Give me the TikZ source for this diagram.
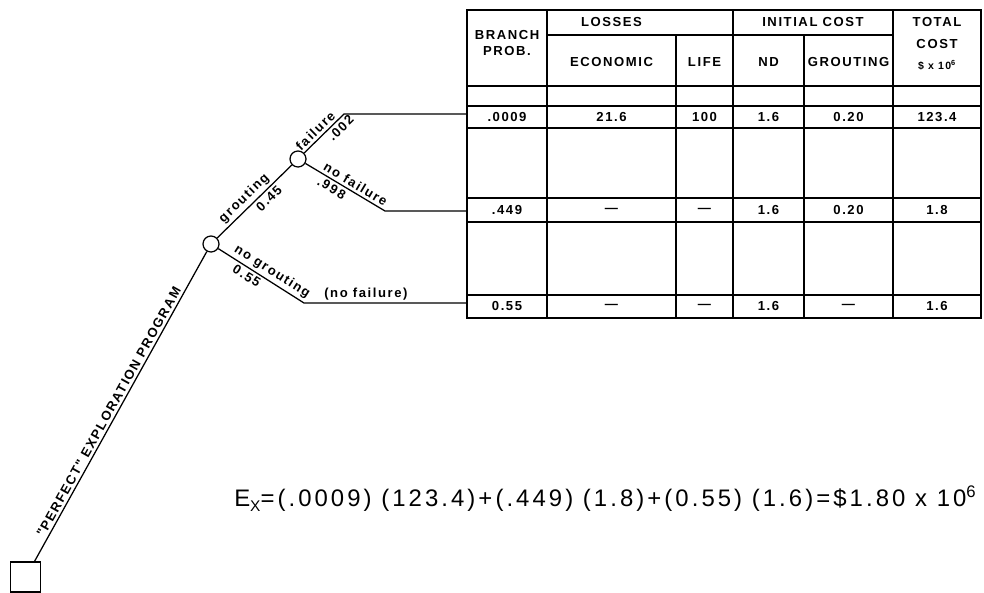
\documentclass[tikz,border=0pt]{standalone}
\usepackage{fontspec}
\setmainfont{Liberation Sans}
\newfontfamily\tabfont[LetterSpace=12]{Liberation Sans Bold}
\newfontfamily\eqnfont[LetterSpace=12.8]{Liberation Sans}
\usetikzlibrary{positioning, calc}

\begin{document}
\begin{tikzpicture}[x=0.025cm, y=-0.025cm,
    grid/.style={line width=1.3pt, line cap=rect},
    branch/.style={line width=0.9pt},
    chance/.style={draw, circle, line width=0.9pt, minimum size=0.4cm, inner sep=0pt},
    decision/.style={draw, rectangle, line width=0.9pt, minimum size=0.75cm, inner sep=0pt},
    lbl/.style={font=\tabfont\fontsize{9.3}{10}\selectfont, inner sep=1.2pt},
    tag/.style={lbl, sloped, inner sep=1.8pt},
    head/.style={font=\tabfont\fontsize{9.3}{11}\selectfont, align=center, inner sep=0pt}]

  \useasboundingbox (0,0) rectangle (984,592);

  % Table grid
  \foreach \y in {10,86,106,128,198,222,295,318}{
    \draw[grid] (467,\y) -- (981,\y);
  }
  \draw[grid] (547,35) -- (893,35);
  \foreach \x in {467,547,733,893,981}{
    \draw[grid] (\x,10) -- (\x,318);
  }
  \foreach \x in {676,804}{
    \draw[grid] (\x,35) -- (\x,318);
  }

  % Column headers
  \node[head] (hbranch) at (507,43) {BRANCH\\PROB.};
  \node[head] (hlosses) at (611.5,22) {LOSSES};
  \node[head] (hinit) at (813,22) {INITIAL COST};
  \node[head, font=\tabfont\fontsize{9.3}{15.5}\selectfont] (htotal) at (937,44)
        {TOTAL\\COST\\{\fontsize{7.5}{8}\selectfont \$ x 10\textsuperscript{6}}};
  \foreach \t/\x/\n in {ECONOMIC/611.5/hecon, LIFE/704.5/hlife, ND/768.5/hnd, GROUTING/848.5/hgrout}{
    \node[head] (\n) at (\x,62) {\t};
  }

  % Row: failure
  \foreach \v/\x in {.0009/507, 21.6/611.5, 100/704.5, 1.6/768.5, 0.20/848.5, 123.4/937}{
    \node[lbl] at (\x,117) {\v};
  }
  % Row: no failure
  \foreach \v/\x in {.449/507, —/611.5, —/704.5, 1.6/768.5, 0.20/848.5, 1.8/937}{
    \node[lbl] at (\x,210) {\v};
  }
  % Row: no grouting
  \foreach \v/\x in {0.55/507, —/611.5, —/704.5, 1.6/768.5, —/848.5, 1.6/937}{
    \node[lbl] at (\x,306) {\v};
  }

  % Decision tree
  \node[decision] (start) at (25.5,577) {};
  \node[chance] (c1) at (211,244) {};
  \node[chance] (c2) at (298,159) {};
  \coordinate (bfail) at (344,114);
  \coordinate (bnofail) at (385,211);
  \coordinate (bnogrout) at (304,303);
  \coordinate (rfail) at (467,114);
  \coordinate (rnofail) at (467,211);
  \coordinate (rnogrout) at (467,303);

  \draw[branch] (start.60) -- node[tag, above, pos=0.47] {"PERFECT" EXPLORATION PROGRAM} (c1);
  \draw[branch] (c1) -- node[tag, above, pos=0.45] {grouting}
                        node[tag, below, pos=0.62] {0.45} (c2);
  \draw[branch] (c2) -- node[tag, above, pos=0.42] {failure}
                        node[tag, below, pos=0.78] {.002} (bfail) -- (rfail);
  \draw[branch] (c2) -- node[tag, above, pos=0.58] {no failure}
                        node[tag, below, pos=0.38] {.998} (bnofail) -- (rnofail);
  \draw[branch] (c1) -- node[tag, above, pos=0.57] {no grouting}
                        node[tag, below, pos=0.38] {0.55} (bnogrout)
                     -- node[lbl, above, pos=0.38] {(no failure)} (rnogrout);

  % Expected value
  \node[font=\eqnfont\fontsize{17}{20}\selectfont, anchor=base west, inner sep=0pt] (ex) at (234,506)
        {E\raisebox{-0.4ex}{\fontsize{11}{12}\selectfont X}=(.0009) (123.4)+(.449) (1.8)+(0.55) (1.6)=\$1.80 x 10\textsuperscript{6}};
\end{tikzpicture}
\end{document}
